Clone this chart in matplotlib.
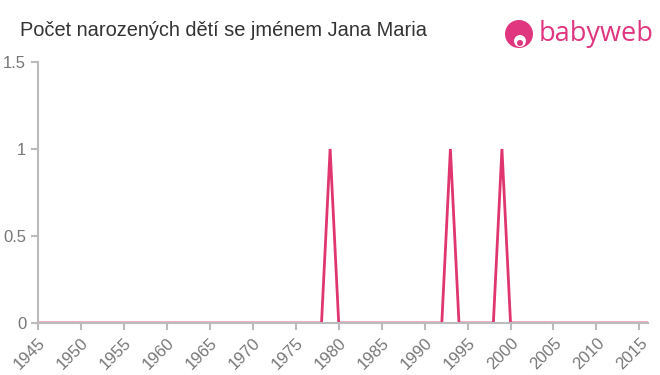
import matplotlib
matplotlib.use("Agg")
import matplotlib.pyplot as plt
import matplotlib.patches as patches

# data
years = list(range(1945, 2017))
peak_years = [1979, 1993, 1999]
counts = [1 if y in peak_years else 0 for y in years]

x_ticks = list(range(1945, 2016, 5))
y_ticks = [0, 0.5, 1, 1.5]
y_tick_labels = ["0", "0.5", "1", "1.5"]

title = "Počet narozených dětí se jménem Jana Maria"
line_color = "#e0356f"
axis_color = "#bbbbbb"
label_color = "#777777"

plt.rcParams['font.family'] = ['Liberation Sans', 'DejaVu Sans']

fig = plt.figure(figsize=(6.6, 3.75), dpi=100)
ax = fig.add_axes([38 / 660, 1 - 323 / 375, (648 - 38) / 660, (323 - 62) / 375])

ax.plot(years, counts, color=line_color, linewidth=2, solid_joinstyle='miter')

ax.set_xlim(1945, 2016)
ax.set_ylim(0, 1.5)
ax.set_xticks(x_ticks)
ax.set_xticklabels([str(x) for x in x_ticks], rotation=45, ha='right',
                   rotation_mode='anchor')
ax.set_yticks(y_ticks)
ax.set_yticklabels(y_tick_labels)

for side in ['top', 'right']:
    ax.spines[side].set_visible(False)
for side in ['left', 'bottom']:
    ax.spines[side].set_color(axis_color)
    ax.spines[side].set_linewidth(1.5)
ax.tick_params(colors=axis_color, labelcolor=label_color, labelsize=12,
               length=5, width=1.5)
ax.tick_params(axis='x', pad=4)

fig.text(20 / 660, 1 - 31 / 375, title, fontsize=14.4, color="#333333",
         va='center', ha='left')

# babyweb logo
logo_color = "#e0357f"
head = patches.Circle((519, 375 - 34), 14, transform=None, facecolor=logo_color,
                      edgecolor='none')
face = patches.Circle((520, 375 - 41), 6, transform=None, facecolor='white',
                      edgecolor='none')
mouth = patches.Circle((520, 375 - 43), 3, transform=None, facecolor=logo_color,
                       edgecolor='none')
fig.patches.extend([head, face, mouth])
fig.text(539 / 660, 1 - 34 / 375, "babyweb", fontsize=19.5, color=logo_color,
         family=['Open Sans', 'DejaVu Sans'], fontweight='normal',
         va='center', ha='left')

fig.savefig("out.png", dpi=100)
